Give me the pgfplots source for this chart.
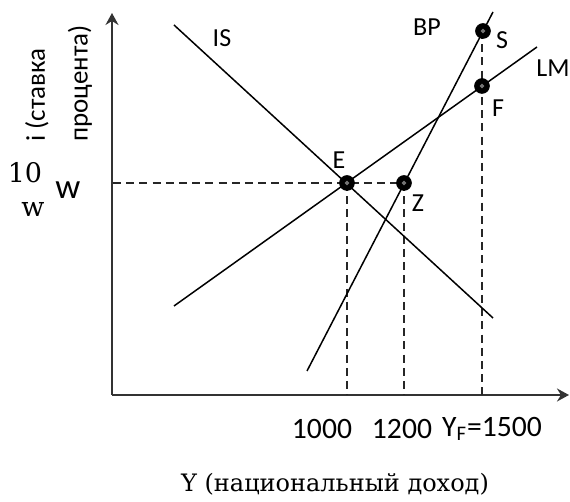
\documentclass[border=0pt]{standalone}
\usepackage{fontspec}
\setmainfont{Carlito}
\newfontfamily\serif{DejaVu Serif}
\usepackage{pgfplots}
\pgfplotsset{compat=1.18}
\usetikzlibrary{arrows.meta}
\tikzset{lab/.style={font=\fontsize{13}{15}\selectfont},
  tl/.style={font=\fontsize{14.8}{17}\selectfont},
  sl/.style={font=\serif\fontsize{13.5}{16}\selectfont}}
\begin{document}
\begin{tikzpicture}
\begin{axis}[
  x=0.5pt, y=0.5pt,
  xmin=112, xmax=569, ymin=107, ymax=489,
  axis lines=left,
  axis line style={line width=1pt, color=black!80, -{Stealth[length=6pt,width=6.5pt,inset=2pt]}},
  xtick=\empty, ytick=\empty,
  clip=false,
]
% dashed guides
\addplot[black!85, line width=0.75pt, dash pattern=on 4pt off 2.6pt] coordinates {(113,319) (404,319)};
\addplot[black!85, line width=0.75pt, dash pattern=on 4pt off 2.6pt] coordinates {(347,319) (347,107)};
\addplot[black!85, line width=0.75pt, dash pattern=on 4pt off 2.6pt] coordinates {(404,319) (404,107)};
\addplot[black!85, line width=0.75pt, dash pattern=on 4pt off 2.6pt] coordinates {(482,471) (482,107)};
% curves
\addplot[black, line width=0.75pt] coordinates {(174,477) (493,184)}; % IS
\addplot[black, line width=0.75pt] coordinates {(174,196) (537,455)}; % LM
\addplot[black, line width=0.75pt] coordinates {(307,131) (493,490)}; % BP
% points
\addplot[only marks, mark=*, mark size=3.7pt, mark options={fill=black, draw=black}] coordinates {(347,319) (404,319) (483,471) (482,416)};
\addplot[only marks, mark=*, mark size=0.9pt, mark options={fill=black!55, draw=black!55}] coordinates {(347,319) (404,319) (483,471) (482,416)};
% labels
\node[lab] at (axis cs:222,464) {IS};
\node[lab] at (axis cs:427,475) {BP};
\node[lab] at (axis cs:502,462) {S};
\node[lab] at (axis cs:553,434) {LM};
\node[lab] at (axis cs:498,394) {F};
\node[lab] at (axis cs:339,342) {E};
\node[lab] at (axis cs:418,299) {Z};
\node[tl] at (axis cs:322,73) {1000};
\node[tl] at (axis cs:402,73) {1200};
\node[tl] at (axis cs:492,73) {Y\textsubscript{F}=1500};
\node[sl] at (axis cs:25,329) {10};
\node[sl] at (axis cs:33,292) {w};
\node[font=\fontsize{17.5}{20}\selectfont] at (axis cs:68,312) {w};
\node[font=\fontsize{13.5}{16}\selectfont, rotate=90, anchor=west, inner sep=0pt] at (axis cs:37,360) {i (ставка};
\node[font=\fontsize{13.5}{16}\selectfont, rotate=90, anchor=west, inner sep=0pt] at (axis cs:80,360) {процента)};
\node[font=\serif\fontsize{12}{15}\selectfont] at (axis cs:335,18) {Y (национальный доход)};
\coordinate (bl) at (axis cs:0,0);
\coordinate (tr) at (axis cs:570,502);
\end{axis}
\pgfresetboundingbox
\useasboundingbox (bl) rectangle (tr);
\end{tikzpicture}
\end{document}
